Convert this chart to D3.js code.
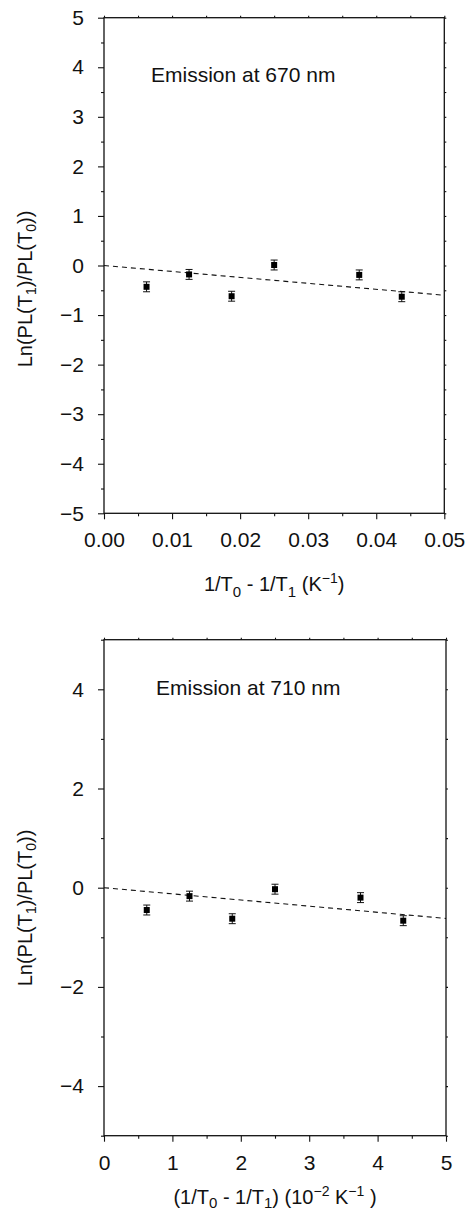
<!DOCTYPE html>
<html>
<head>
<meta charset="utf-8">
<script src="https://cdn.jsdelivr.net/npm/d3@7"></script>
<style>
  html, body { margin: 0; padding: 0; background: #fff; }
  svg { display: block; font-family: "Liberation Sans", Arial, sans-serif; }
</style>
</head>
<body>
<svg id="chart" width="466" height="1212"></svg>
<script>
// ---- Data: top panel (Emission at 670 nm) ----
const topX = [0.00625, 0.0125, 0.01875, 0.025, 0.0375, 0.04375];
const topY = [-0.43, -0.18, -0.62, 0.01, -0.19, -0.63];
const topErr = [0.1, 0.1, 0.1, 0.1, 0.1, 0.1];
const topFitX = [0, 0.05];
const topFitY = [0, -0.6];
const topXTicks = [0, 0.01, 0.02, 0.03, 0.04, 0.05];
const topXTickLabels = ["0.00", "0.01", "0.02", "0.03", "0.04", "0.05"];
const topYTicks = [5, 4, 3, 2, 1, 0, -1, -2, -3, -4, -5];
const topYTickLabels = ["5", "4", "3", "2", "1", "0", "\u22121", "\u22122", "\u22123", "\u22124", "\u22125"];

// ---- Data: bottom panel (Emission at 710 nm) ----
const botX = [0.625, 1.25, 1.875, 2.5, 3.75, 4.375];
const botY = [-0.45, -0.17, -0.625, -0.03, -0.2, -0.665];
const botErr = [0.1, 0.1, 0.1, 0.1, 0.1, 0.1];
const botFitX = [0, 5];
const botFitY = [0, -0.62];
const botXTicks = [0, 1, 2, 3, 4, 5];
const botXTickLabels = ["0", "1", "2", "3", "4", "5"];
const botYTicks = [4, 2, 0, -2, -4];
const botYTickLabels = ["4", "2", "0", "\u22122", "\u22124"];

const svg = d3.select("#chart");

function drawPanel(cfg) {
  const g = svg.append("g");
  const x = d3.scaleLinear().domain(cfg.xDomain).range([cfg.left, cfg.right]);
  const y = d3.scaleLinear().domain(cfg.yDomain).range([cfg.bottom, cfg.top]);

  const labelFor = (arr, labels) => d => labels[arr.indexOf(d)] !== undefined ? labels[arr.indexOf(d)] : "";

  const axStyle = sel => {
    sel.attr("font-family", "'Liberation Sans', Arial, sans-serif").attr("font-size", 21);
    sel.select(".domain").remove();
    sel.selectAll("line").attr("stroke", "#111").attr("stroke-width", 1.1);
    sel.selectAll("text").attr("font-size", 21).attr("fill", "#111");
  };

  // bottom minor
  g.append("g").attr("transform", `translate(0,${cfg.bottom})`)
    .call(d3.axisBottom(x).tickValues(cfg.xMinor).tickSize(3).tickFormat(""))
    .call(axStyle);
  // bottom major
  g.append("g").attr("transform", `translate(0,${cfg.bottom})`)
    .call(d3.axisBottom(x).tickValues(cfg.xTicks).tickSize(6).tickPadding(13)
      .tickFormat(labelFor(cfg.xTicks, cfg.xTickLabels)))
    .call(axStyle);
  // left minor
  g.append("g").attr("transform", `translate(${cfg.left},0)`)
    .call(d3.axisLeft(y).tickValues(cfg.yMinor).tickSize(3).tickFormat(""))
    .call(axStyle);
  // left major
  g.append("g").attr("transform", `translate(${cfg.left},0)`)
    .call(d3.axisLeft(y).tickValues(cfg.yTicks).tickSize(6).tickPadding(14)
      .tickFormat(labelFor(cfg.yTicks, cfg.yTickLabels)))
    .call(axStyle);
  // top mirror ticks
  g.append("g").attr("transform", `translate(0,${cfg.top})`)
    .call(d3.axisTop(x).tickValues(cfg.xMinor.concat(cfg.xTicks)).tickSize(2).tickFormat(""))
    .call(axStyle);
  // right mirror ticks
  g.append("g").attr("transform", `translate(${cfg.right},0)`)
    .call(d3.axisRight(y).tickValues(cfg.yMinor.concat(cfg.yTicks)).tickSize(2).tickFormat(""))
    .call(axStyle);

  // frame
  g.append("rect")
    .attr("x", cfg.left).attr("y", cfg.top)
    .attr("width", cfg.right - cfg.left).attr("height", cfg.bottom - cfg.top)
    .attr("fill", "none").attr("stroke", "#111").attr("stroke-width", 1.3);

  // fit line
  const line = d3.line().x(d => x(d[0])).y(d => y(d[1]));
  g.append("path")
    .datum(cfg.fitX.map((v, i) => [v, cfg.fitY[i]]))
    .attr("d", line)
    .attr("fill", "none").attr("stroke", "#111").attr("stroke-width", 1.1)
    .attr("stroke-dasharray", "5,4");

  const pts = cfg.xs.map((v, i) => ({ x: v, y: cfg.ys[i], e: cfg.err[i] }));
  // error bars
  const eb = g.append("g");
  eb.selectAll("line.v").data(pts).join("line")
    .attr("x1", d => x(d.x)).attr("x2", d => x(d.x))
    .attr("y1", d => y(d.y - d.e)).attr("y2", d => y(d.y + d.e))
    .attr("stroke", "#111").attr("stroke-width", 1);
  eb.selectAll("line.t").data(pts).join("line")
    .attr("x1", d => x(d.x) - 3.5).attr("x2", d => x(d.x) + 3.5)
    .attr("y1", d => y(d.y + d.e)).attr("y2", d => y(d.y + d.e))
    .attr("stroke", "#111").attr("stroke-width", 1);
  eb.selectAll("line.b").data(pts).join("line")
    .attr("x1", d => x(d.x) - 3.5).attr("x2", d => x(d.x) + 3.5)
    .attr("y1", d => y(d.y - d.e)).attr("y2", d => y(d.y - d.e))
    .attr("stroke", "#111").attr("stroke-width", 1);
  // markers
  g.append("g").selectAll("rect").data(pts).join("rect")
    .attr("x", d => x(d.x) - 3).attr("y", d => y(d.y) - 3)
    .attr("width", 6).attr("height", 6).attr("fill", "#000");

  // annotation
  g.append("text")
    .attr("x", cfg.left + cfg.annDx).attr("y", cfg.top + cfg.annDy)
    .attr("font-size", 21).attr("fill", "#111")
    .text(cfg.annotation);

  // y label
  const yl = g.append("text")
    .attr("transform", `translate(${cfg.yLabelX},${cfg.yLabelY}) rotate(-90)`)
    .attr("text-anchor", "middle").attr("font-size", 20).attr("fill", "#111");
  yl.append("tspan").text("Ln(PL(T");
  yl.append("tspan").attr("font-size", 14).attr("dy", 4).text("1");
  yl.append("tspan").attr("dy", -4).text(")/PL(T");
  yl.append("tspan").attr("font-size", 14).attr("dy", 4).text("0");
  yl.append("tspan").attr("dy", -4).text("))");

  // x label
  const xl = g.append("text")
    .attr("x", (cfg.left + cfg.right) / 2).attr("y", cfg.xLabelY)
    .attr("text-anchor", "middle").attr("font-size", 20).attr("fill", "#111");
  cfg.xLabelParts.forEach(p => {
    const t = xl.append("tspan").text(p.t);
    if (p.sub) t.attr("font-size", 15).attr("dy", cfg.subDy);
    if (p.sup) t.attr("font-size", 14).attr("dy", -8);
    if (p.back) t.attr("dy", p.back);
  });
}

drawPanel({
  left: 104, right: 444.3, top: 17.7, bottom: 513.3,
  xDomain: [0, 0.05], yDomain: [-5, 5],
  xTicks: topXTicks, xTickLabels: topXTickLabels,
  xMinor: [0.005, 0.015, 0.025, 0.035, 0.045],
  yTicks: topYTicks, yTickLabels: topYTickLabels,
  yMinor: [4.5, 3.5, 2.5, 1.5, 0.5, -0.5, -1.5, -2.5, -3.5, -4.5],
  xs: topX, ys: topY, err: topErr, fitX: topFitX, fitY: topFitY,
  annotation: "Emission at 670 nm", annDx: 47, annDy: 64,
  yLabelX: 32, yLabelY: 289,
  xLabelY: 591, subDy: 6,
  xLabelParts: [
    { t: "1/T" }, { t: "0", sub: true }, { t: " - 1/T", back: -6 }, { t: "1", sub: true },
    { t: " (K", back: -6 }, { t: "\u22121", sup: true }, { t: ")", back: 8 }
  ]
});

drawPanel({
  left: 104, right: 446, top: 639.7, bottom: 1135.7,
  xDomain: [0, 5], yDomain: [-5, 5],
  xTicks: botXTicks, xTickLabels: botXTickLabels,
  xMinor: [0.5, 1.5, 2.5, 3.5, 4.5],
  yTicks: botYTicks, yTickLabels: botYTickLabels,
  yMinor: [5, 3, 1, -1, -3, -5],
  xs: botX, ys: botY, err: botErr, fitX: botFitX, fitY: botFitY,
  annotation: "Emission at 710 nm", annDx: 52, annDy: 55,
  yLabelX: 32, yLabelY: 908,
  xLabelY: 1204, subDy: 4,
  xLabelParts: [
    { t: "(1/T" }, { t: "0", sub: true }, { t: " - 1/T", back: -4 }, { t: "1", sub: true },
    { t: ") (10", back: -4 }, { t: "\u22122", sup: true }, { t: " K", back: 8 },
    { t: "\u22121", sup: true }, { t: " )", back: 8 }
  ]
});
</script>
</body>
</html>
